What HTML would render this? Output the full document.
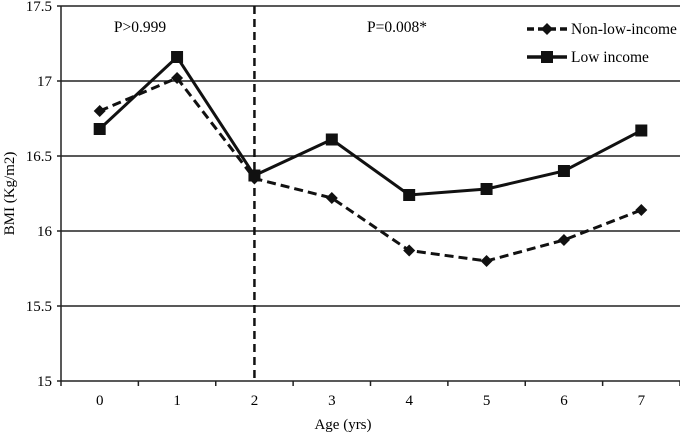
<!DOCTYPE html>
<html><head><meta charset="utf-8"><style>body{margin:0;background:#fff}svg{display:block;font-family:"Liberation Serif",serif}</style></head><body>
<svg id="c" width="680" height="433"></svg>
<script>
const categories=["0","1","2","3","4","5","6","7"];
const nonLowIncome=[16.80,17.02,16.35,16.22,15.87,15.80,15.94,16.14];
const lowIncome=[16.68,17.16,16.37,16.61,16.24,16.28,16.40,16.67];
const yTicks=[15,15.5,16,16.5,17,17.5];
const yTickLabels=["15","15.5","16","16.5","17","17.5"];
const svg=document.getElementById('c');const NS='http://www.w3.org/2000/svg';
const L=61,R=680,T=6,B=381;const step=(R-L)/categories.length;
const x=i=>L+step*(i+0.5);const y=v=>B-(v-15)/2.5*(B-T);
function mk(t,a,name,par){const e=document.createElementNS(NS,t);for(const k in a)e.setAttribute(k,a[k]);


(par||svg).appendChild(e);return e;}
yTicks.forEach((v,i)=>{mk('line',{x1:L-4,x2:R,y1:y(v),y2:y(v),stroke:'#222','stroke-width':1.5},'gridline');
const t=mk('text',{x:L-9,y:y(v)+5,'text-anchor':'end','font-size':15},'y-tick-label');t.textContent=yTickLabels[i];});
mk('line',{x1:L,x2:L,y1:T,y2:B,stroke:'#222','stroke-width':1.5},'y-axis');
for(let i=0;i<=categories.length;i++)mk('line',{x1:L+step*i,x2:L+step*i,y1:B,y2:B+5,stroke:'#222','stroke-width':1.5},'x-tick');
categories.forEach((c,i)=>{const t=mk('text',{x:x(i),y:B+24,'text-anchor':'middle','font-size':15},'x-tick-label');t.textContent=c;});
mk('line',{x1:x(2),x2:x(2),y1:T,y2:B,stroke:'#111','stroke-width':2.5,'stroke-dasharray':'8,5'},'age-2-divider');
let t=mk('text',{x:140,y:32,'text-anchor':'middle','font-size':15.5},'p-value-before');t.textContent='P>0.999';
t=mk('text',{x:397,y:32,'text-anchor':'middle','font-size':15.5},'p-value-after');t.textContent='P=0.008*';
t=mk('text',{x:343,y:429,'text-anchor':'middle','font-size':15},'x-axis-title');t.textContent='Age (yrs)';
t=mk('text',{x:0,y:0,'text-anchor':'middle','font-size':15,transform:`translate(14,${(T+B)/2}) rotate(-90)`},'y-axis-title');t.textContent='BMI (Kg/m2)';
function diamond(cx,cy,name){mk('polygon',{points:`${cx},${cy-6} ${cx+6},${cy} ${cx},${cy+6} ${cx-6},${cy}`,fill:'#111'},name);}
function square(cx,cy,name){mk('rect',{x:cx-6,y:cy-6,width:12,height:12,fill:'#111'},name);}
mk('polyline',{points:nonLowIncome.map((v,i)=>x(i)+','+y(v)).join(' '),fill:'none',stroke:'#111','stroke-width':3,'stroke-dasharray':'9,5'},'non-low-income-line');
mk('polyline',{points:lowIncome.map((v,i)=>x(i)+','+y(v)).join(' '),fill:'none',stroke:'#111','stroke-width':3},'low-income-line');
nonLowIncome.forEach((v,i)=>diamond(x(i),y(v),'non-low-income-point'));
lowIncome.forEach((v,i)=>square(x(i),y(v),'low-income-point'));
mk('line',{x1:527,x2:567,y1:29,y2:29,stroke:'#111','stroke-width':3.5,'stroke-dasharray':'7,4'},'legend-non-low-swatch');diamond(547,29,'legend-non-low-marker');
t=mk('text',{x:571,y:34,'font-size':15.5},'legend-non-low-label');t.textContent='Non-low-income';
mk('line',{x1:527,x2:567,y1:57,y2:57,stroke:'#111','stroke-width':3.5},'legend-low-swatch');square(547,57,'legend-low-marker');
t=mk('text',{x:571,y:62,'font-size':15.5},'legend-low-label');t.textContent='Low income';
</script></body></html>
